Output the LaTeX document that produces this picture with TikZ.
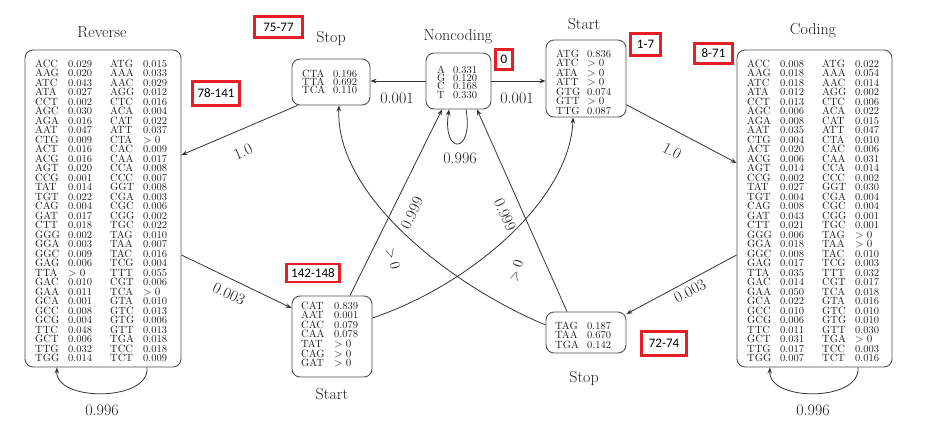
\documentclass[tikz,border=0pt]{standalone}
\usepackage{fontspec}
\newfontfamily\redfont{Carlito}
\usetikzlibrary{arrows.meta}
\definecolor{lbl}{HTML}{E81E25}
\definecolor{ln}{HTML}{333333}
\definecolor{bx}{HTML}{505050}
\definecolor{tx}{HTML}{1E1E1E}
\newcommand\cdnq[4]{\makebox[33pt][l]{#1}\makebox[42pt][l]{#2}\makebox[33pt][l]{#3}#4}
\newcommand\cdnp[3]{\makebox[#1][l]{#2}#3}
\newcommand\gz{$>0$}
\begin{document}
\begin{tikzpicture}[x=1pt,y=-1pt,
  statebox/.style={draw=bx,line width=0.9pt,rounded corners=8pt,inner sep=0pt},
  tbl/.style={anchor=north west,inner sep=0pt,align=left,text=tx,font=\fontsize{10.5}{9.5}\selectfont},
  tbls/.style={anchor=north west,inner sep=0pt,align=left,text=tx,font=\fontsize{10.5}{8.4}\selectfont},
  ttl/.style={anchor=base,inner sep=0pt,text=tx,font=\fontsize{16}{16}\selectfont},
  elbl/.style={inner sep=1pt,text=tx,font=\fontsize{16}{16}\selectfont},
  redlbl/.style={draw=lbl,line width=2.8pt,fill=white,inner sep=0pt,text=black,font=\redfont\fontsize{13}{13}\selectfont},
  conn/.style={draw=ln,line width=0.8pt,-{Stealth[length=6pt,width=4.5pt]}}]
\fill[white] (0,0) rectangle (925,446);
\useasboundingbox (0,0) rectangle (925,446);

% ---------- boxes ----------
\node[statebox,minimum width=156pt,minimum height=317pt] (rev) at (103,208.5) {};
\node[statebox,minimum width=155pt,minimum height=317pt] (cod) at (814.5,208.5) {};
\node[statebox,minimum width=78pt,minimum height=46pt] (stopT) at (331,82) {};
\node[statebox,minimum width=65pt,minimum height=56pt] (nc) at (458.5,81) {};
\node[statebox,minimum width=80pt,minimum height=77pt] (startT) at (586,78.5) {};
\node[statebox,minimum width=80pt,minimum height=81pt] (startB) at (332,336.5) {};
\node[statebox,minimum width=80pt,minimum height=41pt] (stopB) at (586,332.5) {};

% ---------- titles ----------
\node[ttl] (tRev) at (102,38) {Reverse};
\node[ttl] (tCod) at (813,35) {Coding};
\node[ttl] (tStopT) at (331,43) {Stop};
\node[ttl] (tNc) at (458,41) {Noncoding};
\node[ttl] (tStartT) at (584,30) {Start};
\node[ttl] (tStartB) at (332,399) {Start};
\node[ttl] (tStopB) at (584,382) {Stop};

% ---------- tables ----------
\node[tbl] (revT) at (35,59.4) {%
\cdnq{ACC}{0.029}{ATG}{0.015}\\
\cdnq{AAG}{0.020}{AAA}{0.033}\\
\cdnq{ATC}{0.043}{AAC}{0.029}\\
\cdnq{ATA}{0.027}{AGG}{0.012}\\
\cdnq{CCT}{0.002}{CTC}{0.016}\\
\cdnq{AGC}{0.030}{ACA}{0.004}\\
\cdnq{AGA}{0.016}{CAT}{0.022}\\
\cdnq{AAT}{0.047}{ATT}{0.037}\\
\cdnq{CTG}{0.009}{CTA}{\gz}\\
\cdnq{ACT}{0.016}{CAC}{0.009}\\
\cdnq{ACG}{0.016}{CAA}{0.017}\\
\cdnq{AGT}{0.020}{CCA}{0.008}\\
\cdnq{CCG}{0.001}{CCC}{0.007}\\
\cdnq{TAT}{0.014}{GGT}{0.008}\\
\cdnq{TGT}{0.022}{CGA}{0.003}\\
\cdnq{CAG}{0.004}{CGC}{0.006}\\
\cdnq{GAT}{0.017}{CGG}{0.002}\\
\cdnq{CTT}{0.018}{TGC}{0.022}\\
\cdnq{GGG}{0.002}{TAG}{0.010}\\
\cdnq{GGA}{0.003}{TAA}{0.007}\\
\cdnq{GGC}{0.009}{TAC}{0.016}\\
\cdnq{GAG}{0.006}{TCG}{0.004}\\
\cdnq{TTA}{\gz}{TTT}{0.055}\\
\cdnq{GAC}{0.010}{CGT}{0.006}\\
\cdnq{GAA}{0.011}{TCA}{\gz}\\
\cdnq{GCA}{0.001}{GTA}{0.010}\\
\cdnq{GCC}{0.008}{GTC}{0.013}\\
\cdnq{GCG}{0.004}{GTG}{0.006}\\
\cdnq{TTC}{0.048}{GTT}{0.013}\\
\cdnq{GCT}{0.006}{TGA}{0.018}\\
\cdnq{TTG}{0.032}{TCC}{0.018}\\
\cdnq{TGG}{0.014}{TCT}{0.009}};

\node[tbl] (codT) at (747,59.4) {%
\cdnq{ACC}{0.008}{ATG}{0.022}\\
\cdnq{AAG}{0.018}{AAA}{0.054}\\
\cdnq{ATC}{0.018}{AAC}{0.014}\\
\cdnq{ATA}{0.012}{AGG}{0.002}\\
\cdnq{CCT}{0.013}{CTC}{0.006}\\
\cdnq{AGC}{0.006}{ACA}{0.022}\\
\cdnq{AGA}{0.008}{CAT}{0.015}\\
\cdnq{AAT}{0.035}{ATT}{0.047}\\
\cdnq{CTG}{0.004}{CTA}{0.010}\\
\cdnq{ACT}{0.020}{CAC}{0.006}\\
\cdnq{ACG}{0.006}{CAA}{0.031}\\
\cdnq{AGT}{0.014}{CCA}{0.014}\\
\cdnq{CCG}{0.002}{CCC}{0.002}\\
\cdnq{TAT}{0.027}{GGT}{0.030}\\
\cdnq{TGT}{0.004}{CGA}{0.004}\\
\cdnq{CAG}{0.008}{CGC}{0.004}\\
\cdnq{GAT}{0.043}{CGG}{0.001}\\
\cdnq{CTT}{0.021}{TGC}{0.001}\\
\cdnq{GGG}{0.006}{TAG}{\gz}\\
\cdnq{GGA}{0.018}{TAA}{\gz}\\
\cdnq{GGC}{0.008}{TAC}{0.010}\\
\cdnq{GAG}{0.017}{TCG}{0.003}\\
\cdnq{TTA}{0.035}{TTT}{0.032}\\
\cdnq{GAC}{0.014}{CGT}{0.017}\\
\cdnq{GAA}{0.050}{TCA}{0.018}\\
\cdnq{GCA}{0.022}{GTA}{0.016}\\
\cdnq{GCC}{0.010}{GTC}{0.010}\\
\cdnq{GCG}{0.006}{GTG}{0.010}\\
\cdnq{TTC}{0.011}{GTT}{0.030}\\
\cdnq{GCT}{0.031}{TGA}{\gz}\\
\cdnq{TTG}{0.017}{TCC}{0.003}\\
\cdnq{TGG}{0.007}{TCT}{0.016}};

\node[tbls] (stopTT) at (302,69.4) {%
\cdnp{31pt}{CTA}{0.196}\\
\cdnp{31pt}{TTA}{0.692}\\
\cdnp{31pt}{TCA}{0.110}};

\node[tbls] (ncT) at (437,65.4) {%
\cdnp{16pt}{A}{0.331}\\
\cdnp{16pt}{G}{0.120}\\
\cdnp{16pt}{C}{0.168}\\
\cdnp{16pt}{T}{0.330}};

\node[tbl] (startTT) at (556,49.4) {%
\cdnp{31pt}{ATG}{0.836}\\
\cdnp{31pt}{ATC}{\gz}\\
\cdnp{31pt}{ATA}{\gz}\\
\cdnp{31pt}{ATT}{\gz}\\
\cdnp{31pt}{GTG}{0.074}\\
\cdnp{31pt}{GTT}{\gz}\\
\cdnp{31pt}{TTG}{0.087}};

\node[tbl,font=\fontsize{10.5}{9.6}\selectfont] (startBT) at (301,301.4) {%
\cdnp{33pt}{CAT}{0.839}\\
\cdnp{33pt}{AAT}{0.001}\\
\cdnp{33pt}{CAC}{0.079}\\
\cdnp{33pt}{CAA}{0.078}\\
\cdnp{33pt}{TAT}{\gz}\\
\cdnp{33pt}{CAG}{\gz}\\
\cdnp{33pt}{GAT}{\gz}};

\node[tbl] (stopBT) at (555,321.4) {%
\cdnp{32pt}{TAG}{0.187}\\
\cdnp{32pt}{TAA}{0.670}\\
\cdnp{32pt}{TGA}{0.142}};

% ---------- connectors ----------
\draw[conn] (stopT.215) -- ([yshift=53.5pt]rev.east);
\draw[conn] (startT.-33.5) -- ([yshift=45.5pt]cod.west);
\draw[conn] ([yshift=-46.5pt]rev.east) -- ([yshift=28.5pt]startB.west);
\draw[conn] ([yshift=-46.5pt]cod.west) -- ([yshift=18.5pt]stopB.east);
\draw[conn] (nc.west) -- (stopT.east |- nc.west);
\draw[conn] (nc.east) -- (startT.west |- nc.east);
\draw[conn] ([xshift=7.5pt]nc.south) .. controls (474,155) and (442,155) .. ([xshift=-9.5pt]nc.south);
\draw[conn] ([xshift=18pt]startB.north) -- ([xshift=-16.5pt]nc.south);
\draw[conn] ([xshift=-19pt]stopB.north) -- ([xshift=18.5pt]nc.south);
\draw[conn] ([yshift=18.5pt]startB.east) .. controls (470,285) and (570,200) .. ([xshift=-13pt]startT.south);
\draw[conn] ([yshift=7.5pt]stopB.west) .. controls (450,285) and (335,195) .. ([xshift=8pt]stopT.south);
\draw[conn] ([xshift=44pt]rev.south) .. controls (150,402) and (55,402) .. ([xshift=-46pt]rev.south);
\draw[conn] ([xshift=43.5pt]cod.south) .. controls (861,402) and (768,402) .. ([xshift=-44.5pt]cod.south);

% ---------- connector labels ----------
\node[elbl,rotate=23.6] (l1) at (243,152) {1.0};
\node[elbl,rotate=-28] (l2) at (672,151) {1.0};
\node[elbl,rotate=-25] (l3) at (229,294) {0.003};
\node[elbl,rotate=27] (l4) at (690,291) {0.003};
\node[elbl] (l5) at (397,98) {0.001};
\node[elbl] (l6) at (517,98) {0.001};
\node[elbl] (l7) at (460,158) {0.996};
\node[elbl,rotate=64] (l8) at (412,213) {0.999};
\node[elbl,rotate=-66] (l9) at (505,215) {0.999};
\node[elbl,rotate=-75,font=\fontsize{14}{14}\selectfont] (l10) at (393,259) {$>0$};
\node[elbl,rotate=72,font=\fontsize{14}{14}\selectfont] (l11) at (516,271) {$>0$};
\node[elbl] (l12) at (102,410) {0.996};
\node[elbl] (l13) at (813,410) {0.996};

% ---------- red position labels ----------
\node[redlbl,minimum width=48pt,minimum height=21pt] (p1) at (278.5,27) {75-77};
\node[redlbl,minimum width=17pt,minimum height=20pt] (p2) at (504,59.5) {0};
\node[redlbl,minimum width=30pt,minimum height=22pt] (p3) at (645.5,44.5) {1-7};
\node[redlbl,minimum width=38pt,minimum height=20pt] (p4) at (713.5,53.5) {8-71};
\node[redlbl,minimum width=47pt,minimum height=24pt] (p5) at (216,93.5) {78-141};
\node[redlbl,minimum width=53pt,minimum height=18pt] (p6) at (313,273) {142-148};
\node[redlbl,minimum width=45pt,minimum height=24pt] (p7) at (664,343.5) {72-74};
\end{tikzpicture}
\end{document}
